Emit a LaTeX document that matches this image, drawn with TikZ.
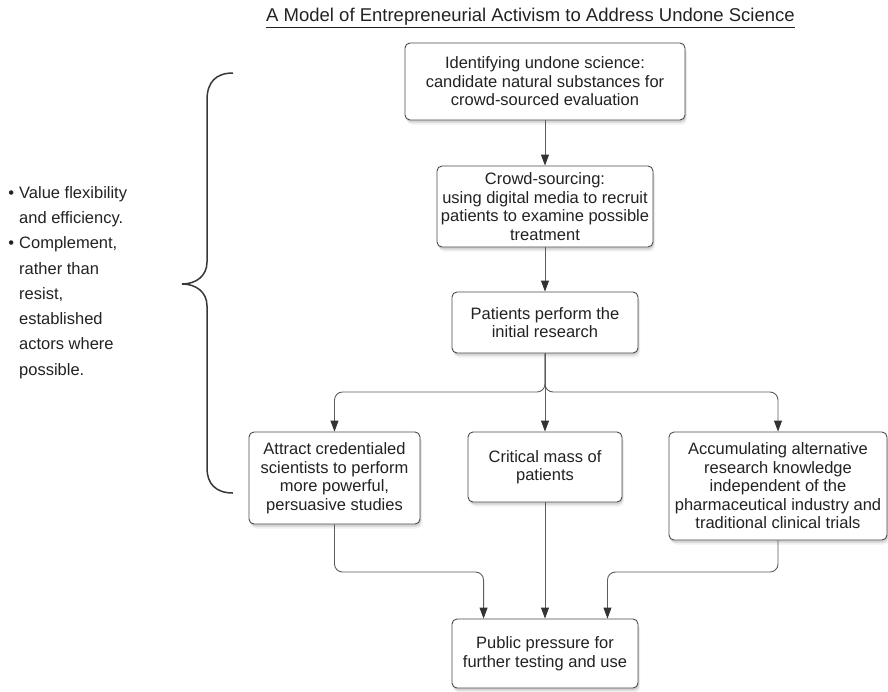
\documentclass[tikz,border=0pt]{standalone}
\usepackage{fontspec}
\setmainfont{Liberation Sans}
\usetikzlibrary{arrows.meta,shadows,calc}
\definecolor{boxline}{HTML}{4A4A4A}
\definecolor{connc}{HTML}{5C5C5C}
\definecolor{tipc}{HTML}{333333}
\definecolor{txt}{HTML}{222222}
\begin{document}
\begin{tikzpicture}[x=1pt,y=-1pt,
  box/.style={draw=boxline, line width=0.9pt, rounded corners=5pt, fill=white,
    align=center, text=txt, font=\fontsize{16.5}{18.5}\selectfont, inner sep=0pt,
    drop shadow={shadow xshift=2pt, shadow yshift=-4.5pt, opacity=0.12},
    drop shadow={shadow xshift=1pt, shadow yshift=-2.5pt, opacity=0.25}},
  conn/.style={draw=connc, line width=0.9pt, rounded corners=8pt},
  arr/.style={conn, -{Triangle[width=8pt,length=11pt,color=tipc]}},
  brace/.style={draw=txt!90, line width=1.5pt},
  note/.style={align=left, text=txt, font=\fontsize{16.5}{25.3}\selectfont, inner sep=0pt, anchor=north west}
]
\useasboundingbox (0,0) rectangle (888,691);

\node[text=txt, font=\fontsize{18.5}{21}\selectfont, inner sep=0pt] (title) at (530.5,18)
  {\underline{A Model of Entrepreneurial Activism to Address Undone Science}};

\node[box, minimum width=280pt, minimum height=77pt] (b1) at (545,81.5)
  {Identifying undone science:\\candidate natural substances for\\crowd-sourced evaluation};
\node[box, minimum width=216pt, minimum height=81pt] (b2) at (545,206.5)
  {Crowd-sourcing:\\using digital media to recruit\\patients to examine possible\\treatment};
\node[box, minimum width=186pt, minimum height=61pt] (b3) at (545,322.5)
  {Patients perform the\\initial research};
\node[box, minimum width=171pt, minimum height=92pt] (b4) at (334.5,478)
  {Attract credentialed\\scientists to perform\\more powerful,\\persuasive studies};
\node[box, minimum width=154pt, minimum height=70pt] (b5) at (545,467)
  {Critical mass of\\patients};
\node[box, minimum width=218pt, minimum height=108pt] (b6) at (778,486)
  {Accumulating alternative\\research knowledge\\independent of the\\pharmaceutical industry and\\traditional clinical trials};
\node[box, minimum width=186pt, minimum height=69pt] (b7) at (545,653.5)
  {Public pressure for\\further testing and use};

\draw[arr] (b1) -- (b2);
\draw[arr] (b2) -- (b3);
\draw[arr] (b3) -- (b5);
\coordinate (split) at (545,392);
\draw[arr] (b3.south) -- (split) -| (b4.north);
\draw[arr] (b3.south) -- (split) -| (b6.north);
\draw[arr] (b5) -- (b7);
\coordinate (jl) at (334.5,572);
\coordinate (jr) at (778,572);
\draw[arr] (b4.south) -- (jl) -| ($(b7.north west)+(32,0)$);
\draw[arr] (b6.south) -- (jr) -| ($(b7.north east)+(-31,0)$);

\draw[brace] (233,73) .. controls (216,73) and (207,82) .. (207,100) -- (207,262)
  .. controls (207,276) and (196,284) .. (182,284)
  .. controls (196,284) and (207,292) .. (207,306) -- (207,468)
  .. controls (207,484) and (216,493) .. (233,493);

\node[note] (notes) at (19,186)
  {\llap{\textbullet\hspace{5pt}}Value flexibility\\
   and efficiency.\\
   \llap{\textbullet\hspace{5pt}}Complement,\\
   rather than\\
   resist,\\
   established\\
   actors where\\
   possible.};
\end{tikzpicture}
\end{document}
